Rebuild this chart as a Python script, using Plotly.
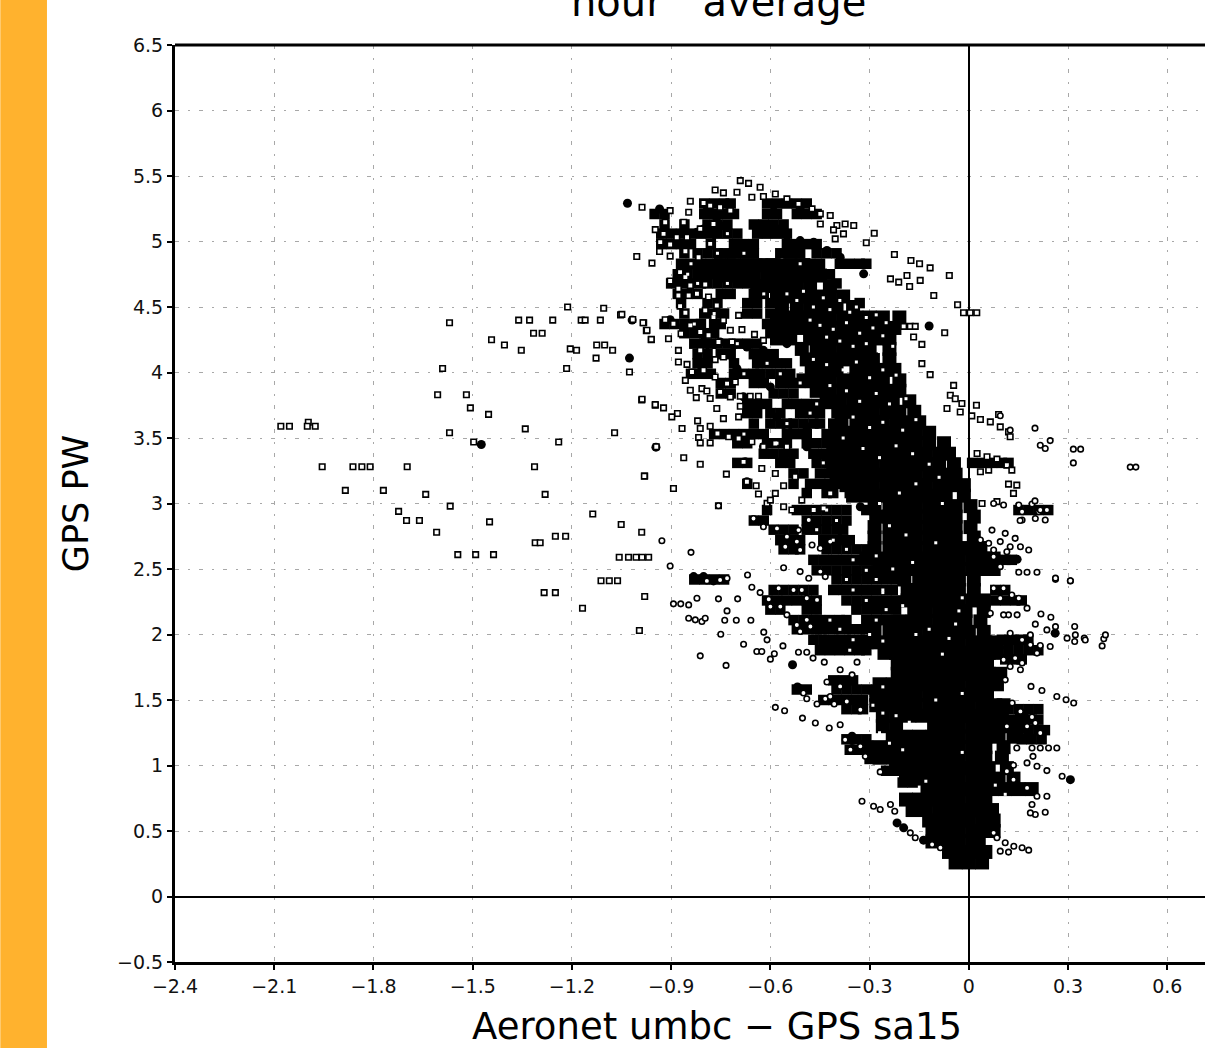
import plotly.graph_objects as go

# tick labels
x_ticks = [-2.4, -2.1, -1.8, -1.5, -1.2, -0.9, -0.6, -0.3, 0, 0.3, 0.6]
x_labels = ["−2.4", "−2.1", "−1.8", "−1.5", "−1.2", "−0.9", "−0.6", "−0.3", "0", "0.3", "0.6"]
y_ticks = [-0.5, 0, 0.5, 1, 1.5, 2, 2.5, 3, 3.5, 4, 4.5, 5, 5.5, 6, 6.5]
y_labels = ["−0.5", "0", "0.5", "1", "1.5", "2", "2.5", "3", "3.5", "4", "4.5", "5", "5.5", "6", "6.5"]

# densest part of the cloud, read row by row
core_y = [0.26, 0.34, 0.42, 0.50, 0.58, 0.66, 0.74, 0.82, 0.90, 0.98, 1.06, 1.14, 1.22, 1.30, 1.38, 1.46,
          1.54, 1.62, 1.70, 1.78, 1.86, 1.94, 2.02, 2.10, 2.18, 2.26, 2.34, 2.42, 2.50, 2.58, 2.66, 2.74,
          2.82, 2.90, 2.98, 3.06, 3.14, 3.22, 3.30, 3.38, 3.46, 3.54, 3.62, 3.70, 3.78, 3.86, 3.94, 4.02,
          4.10, 4.18, 4.26, 4.34, 4.42, 4.50, 4.58, 4.66, 4.74, 4.82]
core_x = [
 [-.04, 0, .04],
 [-.06, -.02, .02, .05],
 [-.11, -.07, -.03, .01, .03],
 [-.11, -.07, -.03, .01, .05, .075],
 [-.12, -.08, -.04, 0, .04, .075],
 [-.17, -.13, -.09, -.05, -.01, .03, .07],
 [-.19, -.15, -.11, -.07, -.03, .01, .05],
 [-.125, -.09, -.05, -.01, .03, .07, .11, .15, .19],
 [-.19, -.15, -.11, -.07, -.03, .01, .05, .09, .135],
 [-.22, -.18, -.14, -.10, -.06, -.02, .02, .06, .115],
 [-.27, -.23, -.19, -.15, -.11, -.07, -.03, .01, .05, .10],
 [-.31, -.27, -.23, -.19, -.15, -.11, -.07, -.03, .01, .05, .105],
 [-.23, -.19, -.15, -.11, -.07, -.03, .01, .05, .09, .135],
 [-.26, -.22, -.105, -.07, -.03, .01, .05, .09, .13, .16],
 [-.26, -.22, -.18, -.14, -.10, -.06, -.02, .02, .06, .10, .16],
 [-.28, -.24, -.20, -.16, -.12, -.08, -.04, 0, .04, .08, .105],
 [-.28, -.24, -.20, -.16, -.12, -.08, -.04, 0, .03, .055],
 [-.27, -.23, -.19, -.15, -.11, -.07, -.03, .01, .05, .085],
 [-.215, -.18, -.14, -.10, -.06, -.02, .02, .06, .095],
 [-.215, -.18, -.14, -.10, -.06, -.02, .02, .055],
 [-.255, -.22, -.18, -.14, -.10, -.06, -.02, .02, .06, .085],
 [-.31, -.27, -.23, -.19, -.15, -.11, -.07, -.03, .01, .05, .085],
 [-.285, -.24, -.20, -.16, -.12, -.08, -.04, 0, .045],
 [-.21, -.17, -.13, -.09, -.05, -.01, .035],
 [-.165, -.13, -.09, -.05, -.01, .045],
 [-.185, -.15, -.11, -.07, -.03, .01, .045],
 [-.185, -.15, -.11, -.07, -.03, .015],
 [-.195, -.15, -.11, -.07, -.03, .015],
 [-.27, -.23, -.19, -.15, -.11, -.07, -.03, .01, .05, .075],
 [-.31, -.27, -.23, -.19, -.15, -.11, -.07, -.03, .01, .05, .075],
 [-.285, -.24, -.20, -.16, -.12, -.08, -.04, 0, .035],
 [-.285, -.24, -.20, -.16, -.12, -.08, -.04, .015],
 [-.285, -.24, -.20, -.16, -.12, -.08, -.04, .005],
 [-.28, -.24, -.20, -.16, -.12, -.08, -.04, .015],
 [-.285, -.24, -.20, -.16, -.12, -.08, -.04, .005],
 [-.35, -.31, -.27, -.23, -.19, -.15, -.11, -.07, -.015],
 [-.37, -.33, -.29, -.25, -.21, -.17, -.13, -.09, -.05, -.015],
 [-.40, -.36, -.32, -.28, -.24, -.20, -.16, -.12, -.08, -.04],
 [-.41, -.37, -.33, -.29, -.25, -.21, -.17, -.13, -.09, -.045],
 [-.41, -.37, -.33, -.29, -.25, -.21, -.17, -.13, -.09, -.06],
 [-.40, -.36, -.32, -.28, -.24, -.20, -.16, -.12, -.075],
 [-.40, -.36, -.32, -.28, -.24, -.20, -.16, -.12],
 [-.385, -.34, -.30, -.26, -.22, -.18, -.15],
 [-.37, -.33, -.29, -.25, -.21, -.165],
 [-.43, -.39, -.35, -.31, -.27, -.23, -.18],
 [-.46, -.42, -.38, -.34, -.30, -.27, -.23, -.21],
 [-.50, -.46, -.42, -.38, -.34, -.30, -.26, -.21],
 [-.475, -.44, -.40, -.34, -.30, -.26, -.225],
 [-.49, -.45, -.41, -.37, -.33, -.29, -.24],
 [-.505, -.46, -.42, -.38, -.34, -.30, -.24],
 [-.58, -.54, -.48, -.44, -.40, -.36, -.32, -.28, -.24],
 [-.58, -.54, -.50, -.46, -.42, -.38, -.34, -.30, -.26, -.225],
 [-.58, -.54, -.50, -.46, -.42, -.38, -.34, -.30, -.26, -.21],
 [-.565, -.52, -.48, -.44, -.40, -.35],
 [-.58, -.54, -.50, -.46, -.42, -.38],
 [-.64, -.60, -.56, -.52, -.48, -.42],
 [-.73, -.69, -.65, -.61, -.57, -.53, -.49, -.45],
 [-.75, -.71, -.67, -.63, -.59, -.54, -.50],
]

# streaky overlapping points beside the dense part, read row by row
band_y = [5.29, 5.21, 5.13, 5.06, 4.98, 4.91, 4.83, 4.75, 4.68, 4.60, 4.53, 4.45, 4.37, 4.30, 4.22, 4.14, 4.07, 3.99, 3.92, 3.84,
          3.76, 3.69, 3.61, 3.53, 3.46, 3.38, 3.31, 3.23, 3.15, 3.08, 2.95, 2.87, 2.80, 2.72, 2.65, 2.57, 2.49, 2.42, 2.34, 2.26,
          2.19, 2.11, 2.04, 1.96, 1.88, 1.81, 1.65, 1.58, 1.50, 1.43, 1.35, 1.27, 1.20, 1.12, 1.05, 0.96, 0.87]
band_x = [
 [-.80, -.77, -.74, -.72, -.61, -.58, -.55, -.52, -.49],
 [-.95, -.92, -.80, -.77, -.74, -.71, -.61, -.58, -.52, -.49, -.46],
 [-.92, -.86, -.79, -.76, -.73, -.65, -.62, -.59, -.56],
 [-.93, -.90, -.87, -.84, -.81, -.78, -.76, -.73, -.70, -.64, -.61, -.58, -.55],
 [-.93, -.90, -.87, -.84, -.78, -.71, -.68, -.65, -.55, -.52, -.49, -.46],
 [-.86, -.82, -.79, -.76, -.74, -.71, -.68, -.65, -.57, -.54, -.51, -.46, -.43, -.40],
 [-.87, -.84, -.81, -.78, -.75, -.72, -.67, -.64, -.60, -.57, -.54, -.51, -.48, -.45, -.39, -.36, -.33, -.31],
 [-.88, -.85, -.82, -.80, -.77, -.74, -.42],
 [-.90, -.87, -.84, -.81, -.79, -.76, -.73, -.70, -.67, -.40],
 [-.88, -.85, -.82, -.75, -.72, -.65, -.62],
 [-.87, -.79, -.76, -.67, -.64, -.60, -.33],
 [-.86, -.80, -.77, -.74, -.67, -.64, -.60],
 [-.92, -.89, -.86, -.83, -.81, -.77, -.75, -.61],
 [-.86, -.83, -.80, -.77, -.60],
 [-.83, -.80, -.78, -.76, -.73, -.70, -.67, -.64],
 [-.82, -.79, -.75, -.72, -.65, -.62, -.59],
 [-.82, -.79, -.71, -.64, -.61, -.58, -.55],
 [-.84, -.81, -.78, -.71, -.68, -.65, -.63, -.60, -.57, -.54],
 [-.75, -.72, -.65, -.62, -.57, -.54, -.51, -.48, -.45],
 [-.75, -.72, -.59, -.56, -.53],
 [-.67, -.64, -.61, -.55, -.52, -.49, -.46, -.43, -.40],
 [-.67, -.64, -.60, -.57, -.51, -.48, -.45, -.40, -.37],
 [-.65, -.60, -.57, -.55, -.53, -.50, -.47, -.45, -.41],
 [-.77, -.74, -.71, -.68, -.65, -.62, -.55, -.52, -.49, -.43],
 [-.70, -.67, -.61, -.58, -.55, -.49, -.46, -.43],
 [-.62, -.59, -.56, -.53, -.47, -.44],
 [-.70, -.67, -.57, -.54, -.46, -.43, .01, .04, .07, .10, .12],
 [-.53, -.50, -.45, -.42],
 [-.67, -.53, -.48, -.45, -.42, -.39],
 [-.49, -.43, -.41, -.36],
 [-.61, -.52, -.49, -.46, -.43, -.40, -.37, -.31, .15, .18, .21, .24],
 [-.65, -.62, -.49, -.46, -.43, -.40, -.37],
 [-.59, -.56, -.53, -.49, -.46, -.43, -.40, -.38],
 [-.57, -.54, -.51, -.44, -.41, -.38, -.36],
 [-.56, -.53, -.51, -.43, -.40, -.37, -.34, -.31],
 [-.47, -.44, -.41, -.38, -.35, -.32, -.29, .08, .11, .13],
 [-.46, -.43, -.40, -.37, -.34, -.31, -.28],
 [-.83, -.80, -.77, -.74, -.40, -.37, -.34, -.31, -.28, -.25, -.22],
 [-.59, -.56, -.53, -.50, -.47, -.41, -.38, -.35, -.32, -.29, -.26, -.23, .08, .11],
 [-.61, -.58, -.55, -.52, -.49, -.46, -.37, -.34, -.31, -.28, -.25, -.22, .08, .11, .14, .16],
 [-.60, -.57, -.49, -.46, -.34, -.31, -.28, -.25, -.22],
 [-.53, -.50, -.47, -.45, -.42, -.39, -.37, -.31, -.28, -.25, -.22],
 [-.52, -.49, -.46, -.45, -.42, -.39, -.36, -.33, -.31],
 [-.47, -.44, -.41, -.38, -.35, -.32, .10, .13, .16, .18],
 [-.45, -.42, -.39, -.36, -.33, -.31, .12, .15, .18, .21],
 [.11, .14, .16],
 [-.41, -.38, -.35],
 [-.52, -.49, -.40, -.37, -.34, -.31, -.28, -.25],
 [-.44, -.41, -.38, -.35, -.32],
 [-.37, -.34, -.32, .12, .15, .18, .21],
 [.13, .16, .19, .21],
 [.15, .18, .21, .23],
 [-.37, -.34, -.31, .16, .19, .22],
 [-.36, -.33],
 [-.30, -.27],
 [-.25, -.22, -.19],
 [-.20, -.17],
]

# small gaps left inside the black cloud
gap_x = [-.55, -.52, -.50, -.47, -.44, -.42, -.39, -.36, -.34, -.31, -.28, -.25, -.48, -.45, -.41, -.37, -.33, -.29, -.26, -.43,
         -.39, -.35, -.31, -.27, -.23, -.47, -.43, -.38, -.34, -.30, -.26, -.22, -.42, -.37, -.33, -.28, -.24, -.19, -.35, -.30,
         -.26, -.20, -.16, -.38, -.32, -.27, -.22, -.17, -.12, -.09, -.16, -.21, -.27, -.24, -.19, -.08, -.10, -.17, -.28, -.23,
         -.26, -.20, -.02, -.03, -.04, -.30, -.26, -.16, -.12, -.06, -.08, -.10, -.02, -.26, -.29, -.26, -.22, -.18, -.27, -.24,
         -.20, -.02, .08, .11, -.13,
         -.43, -.40, -.46, -.41, -.37, -.35, -.31, -.37, -.28, -.35, -.26, -.31, -.25, -.42, -.28, -.39, -.35, -.36,
         -.73, -.76, -.68, -.51, -.84, -.85, -.82, -.73, -.62, -.77, -.83, -.70, -.61, -.68, -.57, -.51, -.46, -.48, -.55, -.68, -.58, -.44]
gap_y = [4.60, 4.55, 4.62, 4.50, 4.57, 4.48, 4.55, 4.46, 4.50, 4.42, 4.44, 4.38, 4.40, 4.36, 4.33, 4.38, 4.30, 4.34, 4.28, 4.27,
         4.24, 4.20, 4.22, 4.16, 4.20, 4.10, 4.06, 4.02, 4.08, 3.96, 4.02, 3.98, 3.90, 3.86, 3.78, 3.84, 3.76, 3.80, 3.66, 3.58,
         3.62, 3.56, 3.64, 3.50, 3.42, 3.35, 3.44, 3.38, 3.30, 3.20, 3.15, 3.08, 3.00, 2.83, 2.76, 3.00, 2.70, 2.55, 2.60, 2.50,
         2.32, 2.22, 2.28, 2.18, 2.08, 2.00, 1.95, 2.00, 2.04, 1.97, 1.85, 1.50, 1.55, 1.60, 1.46, 1.40, 1.38, 1.33, 1.25, 1.17,
         1.12, 1.10, 0.85, 0.78, 0.88,
         2.95, 2.87, 2.80, 2.72, 2.65, 2.57, 2.49, 2.42, 2.42, 2.34, 2.34, 2.26, 2.19, 2.11, 2.11, 2.04, 1.96, 1.88,
         5.06, 4.91, 4.91, 4.83, 4.83, 4.75, 4.68, 4.68, 4.60, 4.45, 4.37, 4.22, 4.07, 3.99, 3.99, 3.92, 3.76, 3.69, 3.61, 3.53, 3.46, 3.31]

# solid streak segments around the dense part
solid_x = [-0.792, -0.762, -0.802, -0.752, -0.822, -0.590, -0.510, -0.621, -0.58, -0.55, -0.51, -0.469, -0.429, -0.389, -0.318,
           -0.903, -0.862, -0.827, -0.802, -0.752, -0.711, -0.671, -0.621, -0.55, -0.812, -0.812, -0.701, -0.651, -0.6,
           -0.731, -0.681, -0.641, -0.58, -0.49, -0.762, -0.701, -0.621, -0.55, -0.676, -0.671, -0.49, -0.449, -0.399, -0.348, -0.328,
           -1.032, -0.935, -1.474, -1.018, -1.026, -0.946, -0.12, -0.533, -0.518, -0.217, -0.197, -0.137, 0.307, 0.161, 0.261, 0.146,
           -0.832, -0.802, -0.772, -0.353, -0.353]
solid_y = [5.236, 5.185, 5.096, 5.122, 5.071, 5.274, 5.249, 5.122, 5.096, 5.046, 5.007, 4.995, 4.931, 4.88, 4.753,
           4.403, 4.36, 4.322, 4.284, 4.233, 4.207, 4.195, 4.169, 4.22, 4.068, 4.004, 4.03, 3.966, 3.89,
           3.839, 3.814, 3.687, 3.661, 3.585, 3.534, 3.483, 3.433, 3.382, 3.318, 3.166, 3.433, 3.382, 3.306, 3.077, 2.975,
           5.292, 5.249, 3.45, 4.40, 4.11, 3.43, 4.355, 1.769, 1.599, 0.562, 0.524, 0.43, 0.892, 1.37, 2.01, 2.574,
           2.442, 2.442, 2.409, 1.223, 1.19]

# isolated points, upper left
left_x = [-2.08, -2.054, -1.997, -2.00, -1.976, -1.955, -1.862, -1.835, -1.81, -1.698, -1.885, -1.77, -1.642, -1.568, -1.724,
          -1.70, -1.661, -1.609, -1.449, -1.545, -1.491, -1.437, -1.57, -1.591, -1.606, -1.519, -1.507, -1.452, -1.57, -1.497,
          -1.341, -1.24, -1.313, -1.281, -1.361, -1.328, -1.258, -1.316, -1.29, -1.443, -1.404, -1.353, -1.213, -1.172, -1.16,
          -1.114, -1.104, -1.053, -0.983, -0.975, -0.96, -1.205, -1.186, -1.125, -1.101, -1.077, -1.127, -1.216, -0.989, -0.948,
          -1.071, -0.98, -1.137, -1.051, -0.989, -1.25, -1.219, -1.311, -1.296, -1.057, -1.029, -1.006, -0.988, -0.968, -1.112,
          -1.087, -1.062, -1.284, -1.25, -0.98, -1.168, -0.996]
left_y = [3.59, 3.59, 3.62, 3.59, 3.59, 3.28, 3.28, 3.28, 3.28, 3.28, 3.10, 3.10, 3.07, 2.98, 2.94,
          2.87, 2.87, 2.78, 2.86, 2.61, 2.61, 2.61, 4.38, 4.03, 3.83, 3.83, 3.73, 3.68, 3.54, 3.47,
          3.57, 3.47, 3.28, 3.07, 4.40, 4.40, 4.40, 4.30, 4.30, 4.25, 4.21, 4.17, 4.50, 4.40, 4.40,
          4.40, 4.49, 4.44, 4.38, 4.32, 4.25, 4.18, 4.17, 4.21, 4.21, 4.17, 4.11, 4.03, 3.79, 3.75,
          3.54, 3.21, 2.92, 2.84, 2.78, 2.75, 2.75, 2.70, 2.70, 2.59, 2.59, 2.59, 2.59, 2.59, 2.41,
          2.41, 2.41, 2.32, 2.32, 2.29, 2.20, 2.03]

# open points around the top of the cloud
upper_x = [-0.691, -0.666, -0.631, -0.767, -0.742, -0.701, -0.656, -0.621, -0.585, -0.550, -0.515, -0.474, -0.449, -0.419, -0.449,
           -0.348, -0.374, -0.399, -0.409, -0.379, -0.286, -0.310, -0.404, -0.225, -0.175, -0.149, -0.117, -0.059, -0.237, -0.212,
           -0.187, -0.179, -0.147, -0.106, -0.034, -0.016, 0.004, 0.024, -0.073, -0.177, -0.162, -0.197, -0.167, -0.142, -0.142,
           -0.117, -0.046, -0.056, -0.041, -0.021, 0.023, -0.066, -0.026, 0.009, 0.09, 0.035, 0.065, 0.095, 0.12, 0.125,
           0.025, 0.055, 0.085, 0.115, 0.13, 0.035, 0.06, 0.12, 0.145, 0.135, 0.085, 0.04,
           -0.988, -0.903, -0.842, -0.802, -0.782, -0.752, -0.721, -0.918, -0.948, -0.923, -0.862, -0.847,
           -0.933, -0.903, -0.935, -0.857, -0.903, -1.004, -0.958, -0.883, -0.852, -0.812, -0.772,
           -0.817, -0.782, -0.873, -0.857, -0.903, -0.878, -0.842, -0.797, -0.878, -0.847, -0.822, -0.873, -0.857, -0.787, -0.762,
           -0.797, -0.772, -0.742, -0.696, -1.049, -1.016, -0.985, -0.973, -0.960, -0.918, -0.893, -0.842, -0.812, -0.87, -0.908,
           -0.721, -0.686, -0.648, -0.621, -0.787, -0.757, -0.716, -1.026, -0.878, -0.878, -0.852, -0.812, -0.767, -0.742,
           -0.837, -0.802, -0.857, -0.767, -0.731, -0.706, -0.842, -0.807, -0.792,
           -0.752, -0.721, -0.691, -0.661, -0.636, -0.824, -0.782, -0.762, -0.988, -0.948, -0.923, -0.881, -0.898,
           -0.82, -0.812, -0.867, -0.782, -0.742, -0.696, -0.691,
           -0.817, -0.812, -0.782, -0.76, -0.726, -0.696, -0.656, -0.621, -0.585, -0.55,
           -0.945, -0.862, -0.812, -0.981, -0.733, -0.893, -0.757,
           -0.681, -0.671, -0.643, -0.636, -0.585, -0.626, -0.585, -0.56, -0.525,
           -0.61, -0.56, -0.535, -0.469, -0.419, -0.439, -0.505, -0.6]
upper_y = [5.465, 5.444, 5.414, 5.393, 5.371, 5.376, 5.338, 5.343, 5.363, 5.325, 5.287, 5.249, 5.211, 5.198, 5.134,
           5.122, 5.134, 5.122, 5.089, 5.058, 5.063, 4.99, 5.02, 4.901, 4.855, 4.83, 4.799, 4.741, 4.715, 4.69,
           4.741, 4.657, 4.703, 4.588, 4.517, 4.456, 4.456, 4.456, 4.304, 4.352, 4.352, 4.352, 4.271, 4.215, 4.068,
           3.984, 3.902, 3.826, 3.8, 3.763, 3.75, 3.725, 3.699, 3.669, 3.679, 3.641, 3.623, 3.585, 3.547, 3.509,
           3.382, 3.357, 3.339, 3.293, 3.255, 3.242, 3.255, 3.148, 3.14, 3.077, 3.014, 3.0,
           5.261, 5.236, 5.307, 5.294, 5.274, 5.261, 5.236, 5.147, 5.091, 5.058, 5.147, 5.223,
           4.995, 4.977, 4.924, 4.926, 4.888, 4.885, 4.835, 5.033, 5.033, 5.096, 5.134,
           4.88, 4.982, 4.766, 4.728, 4.698, 4.639, 4.664, 4.672, 4.588, 4.588, 4.601, 4.507, 4.456, 4.576, 4.512,
           4.474, 4.423, 4.398, 4.436, 4.444, 4.405, 4.38, 4.322, 4.253, 4.403, 4.372, 4.36, 4.309, 4.296, 4.258,
           4.322, 4.327, 4.291, 4.245, 4.284, 4.233, 4.233, 4.004, 4.169, 4.08, 4.062, 4.169, 4.098, 4.118,
           4.004, 4.017, 3.94, 3.966, 3.915, 3.928, 3.864, 3.877, 3.859,
           3.852, 3.814, 3.819, 3.819, 3.819, 3.808, 3.801, 3.725, 3.796, 3.755, 3.73, 3.687, 3.661,
           3.631, 3.572, 3.572, 3.59, 3.648, 3.661, 3.742,
           3.504, 3.463, 3.463, 3.534, 3.509, 3.496, 3.471, 3.433, 3.458, 3.433,
           3.433, 3.349, 3.3, 3.209, 3.224, 3.115, 2.983,
           3.318, 3.166, 3.135, 3.072, 3.077, 3.267, 3.229, 3.135, 3.204,
           3.001, 2.975, 2.95, 2.95, 3.077, 2.963, 3.026, 3.026]

# open points around the lower part of the cloud
lower_x = [-0.651, -0.621, -0.58, -0.55, -0.515, -0.52, -0.555, -0.51, -0.474, -0.449, -0.419, -0.484,
           -0.757, -0.84, -0.928, -0.903, -0.56, -0.669, -0.731, -0.792, -0.752,
           -0.656, -0.631, -0.605, -0.575, -0.53, -0.505, -0.51, -0.484, -0.449, -0.434,
           -0.893, -0.871, -0.847, -0.822, -0.757, -0.699, -0.847, -0.827, -0.807, -0.797, -0.738, -0.703, -0.659, -0.731,
           -0.6, -0.57, -0.55, -0.52, -0.49, -0.479, -0.51, -0.459, -0.49,
           -0.62, -0.61, -0.75, -0.681, -0.812, -0.734, -0.641, -0.626, -0.588, -0.6, -0.562,
           -0.515, -0.49, -0.471, -0.437, -0.389, -0.353, -0.429, -0.389, -0.338,
           -0.5, -0.49, -0.459, -0.434, -0.407, -0.419, -0.369, -0.328, -0.585, -0.557,
           -0.503, -0.464, -0.422, -0.389, -0.374, -0.358, -0.328, -0.313, -0.268,
           -0.323, -0.288, -0.268, -0.237, -0.224, -0.177, -0.162, -0.111, -0.086,
           0.11, 0.136, 0.161, 0.181, 0.095, 0.12, 0.075, 0.085,
           0.236, 0.231, 0.201, 0.186, 0.191, 0.206, 0.176, 0.135, 0.115,
           0.282, 0.236, 0.206, 0.176, 0.135, 0.194, 0.145,
           0.266, 0.241, 0.216, 0.191, 0.216, 0.201, 0.176, 0.191, 0.156, 0.131, 0.115,
           0.317, 0.294, 0.266, 0.221, 0.188, 0.11, 0.156, 0.125, 0.161, 0.105, 0.14,
           0.206, 0.186, 0.246, 0.216, 0.161, 0.125, 0.186, 0.297, 0.32, 0.349, 0.408, 0.403, 0.32, 0.236, 0.201,
           0.248, 0.218, 0.176, 0.146, 0.12, 0.105, 0.065,
           0.151, 0.13, 0.095, 0.105, 0.075, 0.307, 0.262, 0.206, 0.176, 0.151, 0.095, 0.075,
           0.181, 0.156, 0.125, 0.095, 0.06, 0.075, 0.115, 0.14, 0.11, 0.07, 0.035,
           0.231, 0.201, 0.161, 0.151, 0.191, 0.236, 0.161, 0.211, 0.075, 0.105,
           0.316, 0.338, 0.316, 0.488, 0.505, 0.216, 0.246, 0.231, 0.125, 0.2, 0.095, 0.216, 0.155, 0.2, 0.307, 0.262,
           0.262, 0.322, 0.352, 0.413]
lower_y = [2.886, 2.823, 2.81, 2.747, 2.797, 2.709, 2.67, 2.645, 2.683, 2.658, 2.709, 2.874,
           2.983, 2.627, 2.716, 2.523, 2.51, 2.454, 2.429, 2.409, 2.416,
           2.361, 2.32, 2.269, 2.353, 2.34, 2.34, 2.48, 2.429, 2.48, 2.442,
           2.234, 2.234, 2.226, 2.277, 2.272, 2.272, 2.124, 2.112, 2.099, 2.124, 2.109, 2.109, 2.109, 2.18,
           2.213, 2.213, 2.15, 2.073, 2.112, 2.061, 2.023, 2.264, 2.277,
           2.018, 1.959, 2.002, 1.926, 1.837, 1.764, 1.87, 1.87, 1.853, 1.812, 1.913,
           1.865, 1.865, 1.82, 1.789, 1.731, 1.692, 1.637, 1.604, 1.789,
           1.553, 1.51, 1.469, 1.51, 1.469, 1.527, 1.489, 1.426, 1.444, 1.418,
           1.362, 1.324, 1.286, 1.311, 1.197, 1.121, 1.146, 1.07, 0.951,
           0.727, 0.689, 0.664, 0.702, 0.651, 0.486, 0.448, 0.397, 0.372,
           0.41, 0.384, 0.372, 0.354, 0.346, 0.339, 0.486, 0.448,
           0.765, 0.643, 0.626, 0.638, 0.702, 0.765, 0.829, 0.892, 0.956,
           0.918, 0.961, 0.994, 1.02, 1.002, 1.07, 1.134,
           1.134, 1.134, 1.134, 1.134, 1.248, 1.324, 1.299, 1.37, 1.413, 1.477, 1.299,
           1.477, 1.502, 1.527, 1.573, 1.604, 1.654, 1.731, 1.756, 1.782, 1.807, 1.82,
           1.858, 1.921, 1.908, 1.916, 1.959, 2.01, 1.997, 1.972, 1.946, 1.972, 1.967, 1.913, 2.061, 2.035, 2.079,
           2.132, 2.157, 2.201, 2.15, 2.15, 2.15, 2.162,
           2.277, 2.302, 2.277, 2.353, 2.353, 2.409, 2.421, 2.475, 2.475, 2.475, 2.518, 2.594,
           2.645, 2.67, 2.67, 2.709, 2.696, 2.645, 2.632, 2.734, 2.772, 2.797, 2.721,
           2.874, 2.886, 2.874, 2.988, 2.996, 2.95, 2.937, 2.937, 3.0, 2.988,
           3.415, 3.415, 3.31, 3.278, 3.278, 3.445, 3.48, 3.42, 3.56, 3.575, 3.67, 2.95, 2.87, 3.02, 2.41, 2.43,
           2.06, 1.997, 1.958, 1.997]


def flatten(rows_y, rows_x):
    return [v for row in rows_x for v in row], [y for y, row in zip(rows_y, rows_x) for _ in row]


flat_core_x, flat_core_y = flatten(core_y, core_x)
flat_band_x, flat_band_y = flatten(band_y, band_x)

fig = go.Figure()
fig.add_trace(go.Scatter(x=flat_core_x, y=flat_core_y, mode="markers",
                         marker=dict(symbol="square", size=14, color="black", line=dict(width=0))))
fig.add_trace(go.Scatter(x=flat_band_x, y=flat_band_y, mode="markers",
                         marker=dict(symbol="square", size=10.5, color="black", line=dict(width=0))))
fig.add_trace(go.Scatter(x=solid_x, y=solid_y, mode="markers",
                         marker=dict(symbol="circle", size=9, color="black", line=dict(width=0))))
for xs, ys, sym in [(left_x, left_y, "square"), (upper_x, upper_y, "square"), (lower_x, lower_y, "circle")]:
    fig.add_trace(go.Scatter(x=xs, y=ys, mode="markers",
                             marker=dict(symbol=sym, size=5.5, color="white", line=dict(width=1.6, color="black"))))
fig.add_trace(go.Scatter(x=gap_x, y=gap_y, mode="markers",
                         marker=dict(symbol="square", size=3, color="white", line=dict(width=0))))

axis_common = dict(
    showgrid=True, gridcolor="#a8a8a8", gridwidth=1, griddash="4px,9px,2px,9px",
    showline=True, linecolor="black", linewidth=3, mirror=False,
    ticks="outside", ticklen=5, tickcolor="black", tickwidth=1.5,
    zeroline=True, zerolinecolor="black", zerolinewidth=2,
    tickfont=dict(family="DejaVu Sans", size=19, color="#111"),
)
fig.update_layout(
    width=1205, height=1048, showlegend=False, plot_bgcolor="white", paper_bgcolor="white",
    margin=dict(l=175, r=0, t=45, b=86),
    font=dict(family="DejaVu Sans", color="black"),
    xaxis=dict(range=[-2.4, 0.714], tickvals=x_ticks, ticktext=x_labels, **axis_common),
    yaxis=dict(range=[-0.5, 6.5], tickvals=y_ticks, ticktext=y_labels,
               title=dict(text="GPS PW", font=dict(size=35), standoff=18), **axis_common),
    shapes=[dict(type="rect", xref="paper", yref="paper", x0=-0.1696, x1=-0.1243, y0=-0.1, y1=1.05,
                 fillcolor="#FFB22E", line=dict(width=0), layer="below"),
            dict(type="line", xref="paper", yref="paper", x0=0, x1=1, y0=1, y1=1,
                 line=dict(color="black", width=3))],
    annotations=[dict(text="hour\u2003average", xref="paper", yref="paper", x=0.528, y=1.0, yshift=18,
                      yanchor="bottom", showarrow=False, font=dict(size=40)),
                 dict(text="Aeronet umbc − GPS sa15", xref="paper", yref="paper", x=0.526, y=0, yshift=-41,
                      yanchor="top", showarrow=False, font=dict(size=37))],
)
fig.write_html("out.html", config={"displayModeBar": False},
               post_script="document.body.style.margin='0';document.documentElement.style.overflow='hidden';")
